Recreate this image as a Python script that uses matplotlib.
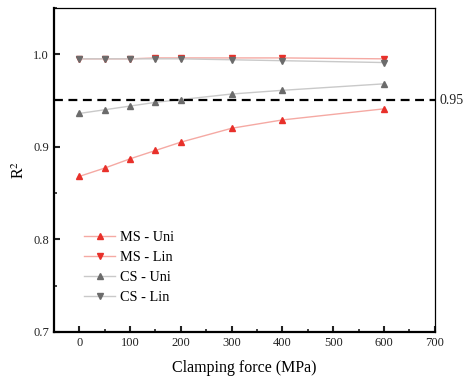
import matplotlib
matplotlib.use("Agg")
import matplotlib.pyplot as plt
from matplotlib.ticker import MultipleLocator

plt.rcParams["font.family"] = ["Liberation Serif", "DejaVu Serif"]
plt.rcParams["mathtext.fontset"] = "stix"

# clamping force (MPa)
force = [0, 50, 100, 150, 200, 300, 400, 600]

# R^2 values
ms_uni = [0.868, 0.877, 0.887, 0.896, 0.905, 0.920, 0.929, 0.941]
ms_lin = [0.995, 0.995, 0.995, 0.996, 0.996, 0.996, 0.996, 0.995]
cs_uni = [0.936, 0.940, 0.944, 0.948, 0.951, 0.957, 0.961, 0.968]
cs_lin = [0.995, 0.995, 0.995, 0.995, 0.995, 0.994, 0.993, 0.991]

threshold = 0.95

red_line = "#f5a9a3"
red_mark = "#e8302a"
grey_line = "#c9c9c9"
grey_mark = "#6b6b6b"

fig = plt.figure(figsize=(4.65, 3.78), dpi=100)
ax = fig.add_axes([0.116, 0.122, 0.819, 0.857])

ax.plot(force, ms_uni, color=red_line, lw=1, marker="^", ms=4.5,
        mfc=red_mark, mec=red_mark, label="MS - Uni")
ax.plot(force, ms_lin, color=red_line, lw=1, marker="v", ms=4.5,
        mfc=red_mark, mec=red_mark, label="MS - Lin")
ax.plot(force, cs_uni, color=grey_line, lw=1, marker="^", ms=4.5,
        mfc=grey_mark, mec=grey_mark, label="CS - Uni")
ax.plot(force, cs_lin, color=grey_line, lw=1, marker="v", ms=4.5,
        mfc=grey_mark, mec=grey_mark, label="CS - Lin")

# threshold line
ax.axhline(threshold, color="black", lw=1.6, ls=(0, (4, 2.5)))
ax.text(1.013, threshold, "0.95", transform=ax.get_yaxis_transform(),
        va="center", ha="left", fontsize=10, color="#222222")

ax.set_xlim(-50, 700)
ax.set_ylim(0.7, 1.05)
ax.xaxis.set_major_locator(MultipleLocator(100))
ax.xaxis.set_minor_locator(MultipleLocator(50))
ax.yaxis.set_major_locator(MultipleLocator(0.1))
ax.yaxis.set_minor_locator(MultipleLocator(0.05))
ax.set_yticks([0.7, 0.8, 0.9, 1.0])
ax.set_yticklabels(["0.7", "0.8", "0.9", "1.0"])

ax.tick_params(which="both", direction="in", labelsize=9, colors="#222222")
ax.tick_params(which="major", length=4, width=1.5)
ax.tick_params(which="minor", length=2.5, width=1.2)

for side in ["left", "bottom"]:
    ax.spines[side].set_linewidth(1.6)
for side in ["top", "right"]:
    ax.spines[side].set_linewidth(0.9)

ax.set_xlabel("Clamping force (MPa)", fontsize=11.5, labelpad=8)
ax.set_ylabel("R$^2$", fontsize=11.5, labelpad=4)

ax.legend(loc="upper left", bbox_to_anchor=(0.06, 0.335), frameon=False,
          fontsize=10.3, handlelength=2.2, handletextpad=0.3,
          labelspacing=0.5, borderpad=0)

fig.savefig("out.png", dpi=100)
